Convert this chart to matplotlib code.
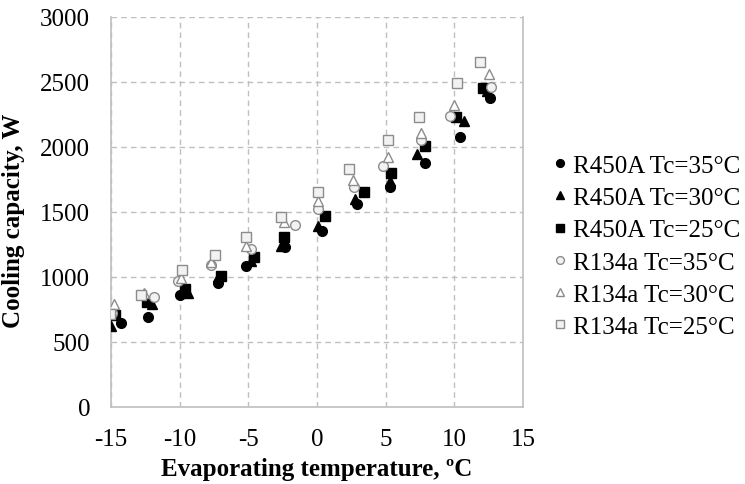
import matplotlib
matplotlib.use("Agg")
import matplotlib.pyplot as plt

plt.rcParams['font.family'] = ['Liberation Serif', 'DejaVu Serif']

# R450A series
r450a_35_t = [-14.3, -12.3, -10.0, -7.2, -5.2, -2.3, 0.4, 2.9, 5.3, 7.9, 10.4, 12.6]
r450a_35_w = [645, 690, 857, 950, 1087, 1230, 1356, 1562, 1690, 1878, 2075, 2378]
r450a_30_t = [-15.0, -12.0, -9.4, -7.2, -4.8, -2.6, 0.1, 2.8, 5.3, 7.3, 10.7, 12.4]
r450a_30_w = [625, 792, 880, 1000, 1125, 1240, 1395, 1600, 1741, 1946, 2202, 2430]
r450a_25_t = [-14.7, -12.4, -9.6, -7.0, -4.6, -2.4, 0.6, 3.4, 5.4, 7.9, 10.1, 12.1]
r450a_25_w = [708, 805, 905, 1010, 1150, 1310, 1467, 1651, 1800, 2010, 2228, 2451]

# R134a series
r134a_35_t = [-14.9, -11.9, -10.1, -7.7, -4.8, -1.6, 0.1, 2.7, 4.8, 7.6, 9.7, 12.7]
r134a_35_w = [725, 843, 967, 1090, 1215, 1402, 1523, 1690, 1856, 2054, 2241, 2459]
r134a_30_t = [-14.8, -12.6, -9.9, -7.7, -5.2, -2.4, 0.1, 2.6, 5.2, 7.6, 10.0, 12.5]
r134a_30_w = [795, 880, 995, 1113, 1241, 1421, 1587, 1749, 1925, 2105, 2323, 2562]
r134a_25_t = [-15.1, -12.8, -9.8, -7.4, -5.2, -2.6, 0.1, 2.3, 5.2, 7.4, 10.2, 11.9]
r134a_25_w = [715, 864, 1054, 1172, 1310, 1464, 1651, 1831, 2054, 2233, 2492, 2656]

labels = ["R450A Tc=35°C", "R450A Tc=30°C", "R450A Tc=25°C",
          "R134a Tc=35°C", "R134a Tc=30°C", "R134a Tc=25°C"]

x_ticks = [-15, -10, -5, 0, 5, 10, 15]
y_ticks = [0, 500, 1000, 1500, 2000, 2500, 3000]

fig = plt.figure(figsize=(7.45, 4.85), dpi=100)
ax = fig.add_axes([0.149, 0.159, 0.553, 0.804])

series = [
    (r450a_35_t, r450a_35_w, 'o', 'black', 'black'),
    (r450a_30_t, r450a_30_w, '^', 'black', 'black'),
    (r450a_25_t, r450a_25_w, 's', 'black', 'black'),
    (r134a_35_t, r134a_35_w, 'o', '#f2f2f2', '#8c8c8c'),
    (r134a_30_t, r134a_30_w, '^', 'white', '#8c8c8c'),
    (r134a_25_t, r134a_25_w, 's', '#f2f2f2', '#8c8c8c'),
]
for (t, w, m, fc, ec), lab in zip(series, labels):
    ax.plot(t, w, linestyle='none', marker=m, markersize=7.0,
            markerfacecolor=fc, markeredgecolor=ec, markeredgewidth=1.0,
            label=lab, zorder=3)

ax.set_xlim(-15, 15)
ax.set_ylim(0, 3000)
ax.set_xticks(x_ticks)
ax.set_yticks(y_ticks)
ax.set_xticklabels([str(v) for v in x_ticks])
ax.tick_params(axis='both', length=0, labelsize=18)
ax.tick_params(axis='y', pad=15)
ax.tick_params(axis='x', pad=15)
ax.grid(True, linestyle=(0, (4, 3)), color='#bfbfbf', linewidth=1.0, zorder=0)
for side in ['left', 'bottom', 'right']:
    ax.spines[side].set_color('#bfbfbf')
    ax.spines[side].set_linewidth(1.2)
ax.spines['top'].set_visible(False)

ax.set_xlabel("Evaporating temperature, ºC", fontsize=18, fontweight='bold', labelpad=5)
ax.set_ylabel("Cooling capacity, W", fontsize=18, fontweight='bold')
ax.yaxis.set_label_coords(-0.209, 0.48)

leg = fig.legend(loc='center left', bbox_to_anchor=(0.7235, 0.49), frameon=False,
                 fontsize=18, markerscale=0.8, handletextpad=0.06,
                 handlelength=0.9, labelspacing=0.39, borderaxespad=0)

fig.savefig("out.png", dpi=100)
